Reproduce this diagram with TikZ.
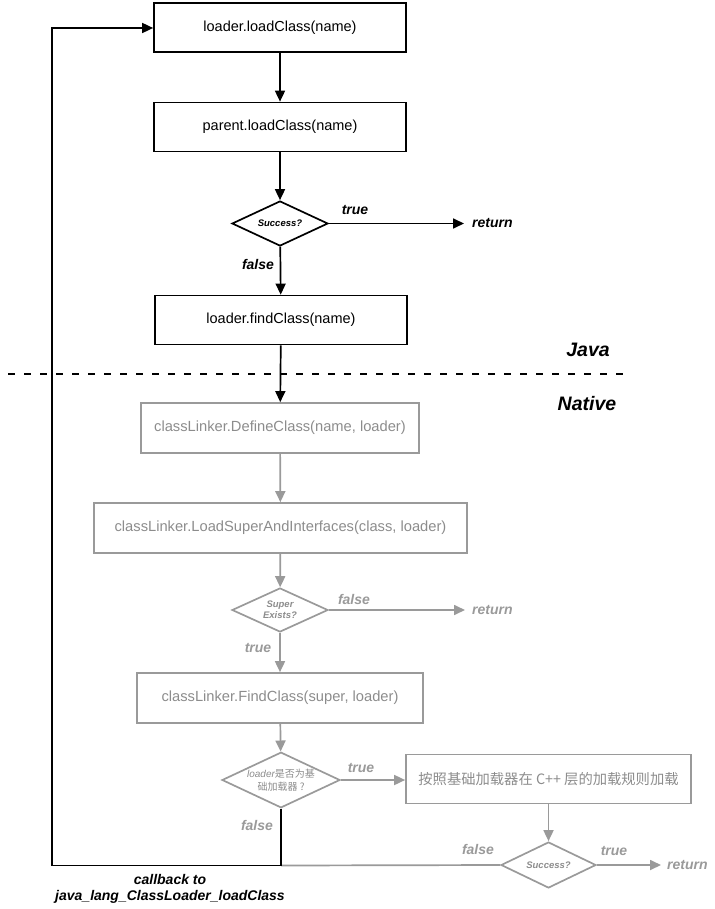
\documentclass[tikz,border=0pt]{standalone}
\usepackage{fontspec}
\setmainfont{Liberation Sans}
\newfontfamily\cjk{Noto Sans CJK SC}
\usetikzlibrary{shapes.geometric,arrows.meta}
\definecolor{lg}{HTML}{9A9A9A}
\definecolor{lgt}{HTML}{8C8C8C}
\tikzset{
  bbox/.style={draw=black,line width=1.7pt,minimum width=252pt,minimum height=49pt,inner sep=0pt,font=\fontsize{14.5}{16}\selectfont},
  gbox/.style={draw=lg,line width=1.7pt,minimum height=50pt,inner sep=0pt,text=lgt,font=\fontsize{14.7}{16}\selectfont},
  bdia/.style={diamond,draw=black,line width=1.7pt,inner sep=0pt,aspect=2,font=\fontsize{9.5}{11}\selectfont\bfseries\itshape},
  gdia/.style={diamond,draw=lg,line width=1.7pt,inner sep=0pt,aspect=2,text=lgt,font=\fontsize{9.5}{11}\selectfont\bfseries\itshape,align=center},
  barr/.style={draw=black,line width=1.7pt,-{Triangle[length=11pt,width=10pt]}},
  garr/.style={draw=lg,line width=1.7pt,-{Triangle[length=11pt,width=10pt]}},
  blab/.style={font=\fontsize{14}{16}\selectfont\bfseries\itshape},
  glab/.style={font=\fontsize{14}{16}\selectfont\bfseries\itshape,text=lg},
  retb/.style={blab,anchor=west,inner xsep=0pt},
  retg/.style={glab,anchor=west,inner xsep=0pt},
  big/.style={font=\fontsize{19.5}{22}\selectfont\bfseries\itshape},
}
\begin{document}
\begin{tikzpicture}[x=1pt,y=-1pt]
\useasboundingbox (0,0) rectangle (714,909);
% Java part
\node[bbox] (b1) at (280,27.5) {loader.loadClass(name)};
\node[bbox] (b2) at (280,127) {parent.loadClass(name)};
\node[bdia,minimum width=96pt,minimum height=45pt] (d1) at (280,223.5) {Success?};
\node[retb] (r1) at (472,223.5) {return};
\node[bbox] (b3) at (281,320) {loader.findClass(name)};
\draw[barr] (b1) -- (b2);
\draw[barr] (b2) -- (d1);
\draw[barr] (d1.east) -- ([xshift=-8pt]r1.west);
\draw[barr] (d1) -- (b3);
\node[blab] (t1) at (355,210) {true};
\node[blab] (f1) at (258,264) {false};
% separator
\coordinate (dl) at (8,374);
\coordinate (dr) at (625,374);
\draw[line width=1.7pt,dash pattern=on 7pt off 9pt] (dl) -- (dr);
\node[big] (java) at (588,350) {Java};
\node[big] (native) at (587,404) {Native};
% Native part
\node[gbox,minimum width=278pt] (g1) at (280,428) {classLinker.DefineClass(name, loader)};
\node[gbox,minimum width=373pt] (g2) at (280.5,528) {classLinker.LoadSuperAndInterfaces(class, loader)};
\node[gdia,minimum width=96pt,minimum height=44pt] (d2) at (280,610) {Super\\Exists?};
\node[retg] (r2) at (472,610) {return};
\node[gbox,minimum width=286pt] (g3) at (280,698) {classLinker.FindClass(super, loader)};
\node[gdia,minimum width=118pt,minimum height=54pt,font=\fontsize{10}{12.5}\selectfont] (d3) at (281,780) {{\itshape loader}{\cjk 是否为基}\\{\cjk 础加载器 ?}};
\node[gbox,minimum width=285pt,minimum height=49pt,font=\fontsize{14.3}{16}\selectfont] (g4) at (548.5,779) {{\cjk 按照基础加载器在 C++ 层的加载规则加载}};
\node[gdia,minimum width=95pt,minimum height=46pt] (d4) at (548.5,865) {Success?};
\node[retg] (r3) at (667,865) {return};
\draw[barr] (b3) -- (g1);
\draw[garr] (g1) -- (g2);
\draw[garr] (g2) -- (d2);
\draw[garr] (d2.east) -- ([xshift=-7pt]r2.west);
\draw[garr] (d2) -- (g3);
\draw[garr] (g3) -- (d3);
\draw[garr] (d3.east) -- (d3.east -| g4.west);
\draw[garr] (g4) -- (d4);
\draw[garr] (d4.east) -- ([xshift=-6pt]r3.west);
\coordinate (jn) at (281,865.5);
\coordinate (ll) at (52,865.5);
\coordinate (lu) at (52,28);
\draw[draw=lg,line width=1.7pt] (d4.west) -- (jn);
\draw[barr] (d3.south) -- (jn) -- (ll) -- (lu) -- (lu -| b1.west);
\node[glab] (f2) at (354,599) {false};
\node[glab] (t2) at (258,648) {true};
\node[glab] (t3) at (361,768) {true};
\node[glab] (f3) at (257,825) {false};
\node[glab] (f4) at (478,849) {false};
\node[glab] (t4) at (614,851) {true};
\node[blab] (cb1) at (170,879) {callback to};
\node[blab] (cb2) at (170,897) {java\_lang\_ClassLoader\_loadClass};
\end{tikzpicture}
\end{document}
